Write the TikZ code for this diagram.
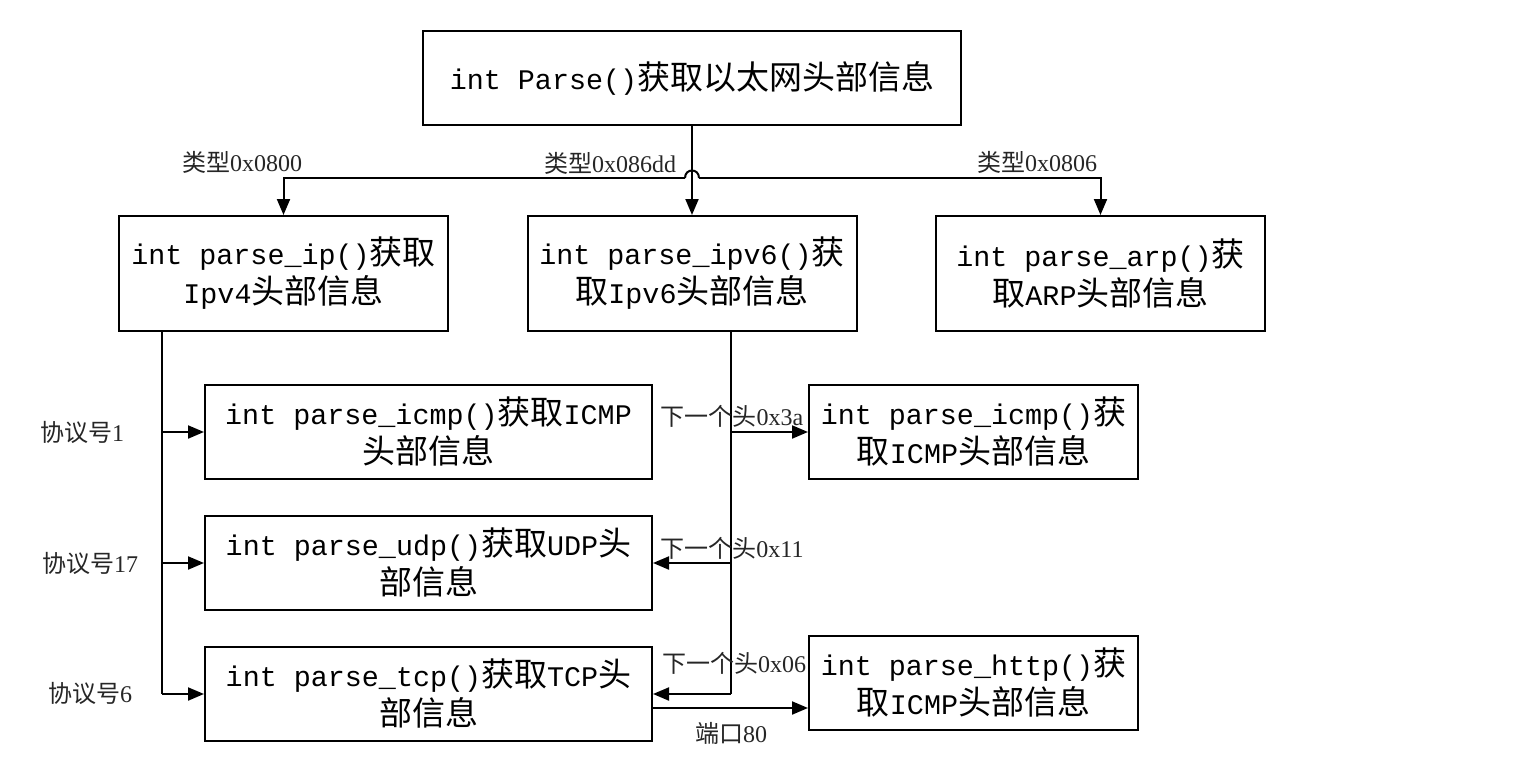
\documentclass[tikz,border=0pt]{standalone}
\usepackage{fontspec}
\setmainfont{Liberation Serif}
\newfontfamily\zhf{Noto Sans CJK SC}
\newfontfamily\monof{Liberation Mono}[Scale=0.86]
\newcommand\zh[1]{{\zhf #1}}
\usetikzlibrary{arrows.meta}
\tikzset{
 box/.style={draw, line width=2pt, align=center, font=\fontsize{33}{39}\selectfont\monof, inner sep=0pt},
 wbox/.style={box, minimum width=447pt, minimum height=94pt},
 nbox/.style={box, minimum width=329pt, minimum height=94pt},
 tbox/.style={box, minimum width=329pt, minimum height=115pt},
 lbl/.style={font=\fontsize{24}{28}\selectfont, inner sep=0pt, text=black!85},
 conn/.style={line width=2pt},
 arr/.style={conn, -{Triangle[length=16pt,width=13pt]}},
}
\begin{document}
\begin{tikzpicture}[x=1pt,y=-1pt]
\useasboundingbox[fill=white] (0,0) rectangle (1516,784);
% boxes
\node[box, minimum width=538pt, minimum height=94pt] (parse) at (692,78) {int Parse()\zh{获取以太网头部信息}};
\node[tbox] (ip) at (283.5,273.5) {int parse\_ip()\zh{获取}\\Ipv4\zh{头部信息}};
\node[tbox] (ipv6) at (692,273.5) {int parse\_ipv6()\zh{获}\\\zh{取}Ipv6\zh{头部信息}};
\node[tbox] (arp) at (1100.5,273.5) {int parse\_arp()\zh{获}\\\zh{取}ARP\zh{头部信息}};
\node[wbox] (icmp) at (428.5,432) {int parse\_icmp()\zh{获取}ICMP\\\zh{头部信息}};
\node[wbox] (udp) at (428.5,563) {int parse\_udp()\zh{获取}UDP\zh{头}\\\zh{部信息}};
\node[wbox] (tcp) at (428.5,694) {int parse\_tcp()\zh{获取}TCP\zh{头}\\\zh{部信息}};
\node[nbox] (icmp6) at (973.5,432) {int parse\_icmp()\zh{获}\\\zh{取}ICMP\zh{头部信息}};
\node[nbox] (http) at (973.5,683) {int parse\_http()\zh{获}\\\zh{取}ICMP\zh{头部信息}};
% top bus with hop
\coordinate (hopL) at (685,178);
\coordinate (hopR) at (699,178);
\draw[arr] (parse.south) -- (ipv6.north);
\draw[arr] (hopL) -| (ip.north);
\draw[arr] (hopR) -| (arp.north);
\draw[conn] (hopL) .. controls (685,168) and (699,168) .. (hopR);
% left bus
\coordinate (lb) at (162,694);
\draw[conn] (ip.south -| lb) -- (lb);
\draw[arr] (icmp.west -| lb) -- (icmp.west);
\draw[arr] (udp.west -| lb) -- (udp.west);
\draw[arr] (lb) -- (tcp.west);
% right bus
\coordinate (rb) at (731,694);
\draw[conn] (ipv6.south -| rb) -- (rb);
\draw[arr] (icmp6.west -| rb) -- (icmp6.west);
\draw[arr] (udp.east -| rb) -- (udp.east);
\draw[arr] (rb) -- (tcp.east);
% tcp -> http
\coordinate (tp) at ([yshift=-14pt]tcp.east);
\draw[arr] (tp) -- (tp -| http.west);
% labels
\node[lbl] (l1) at (242,162) {\zh{类型}0x0800};
\node[lbl] (l2) at (610,163) {\zh{类型}0x086dd};
\node[lbl] (l3) at (1037,162) {\zh{类型}0x0806};
\node[lbl] (l4) at (82,432) {\zh{协议号}1};
\node[lbl] (l5) at (90,563) {\zh{协议号}17};
\node[lbl] (l6) at (90,693) {\zh{协议号}6};
\node[lbl] (l7) at (732,416) {\zh{下一个头}0x3a};
\node[lbl] (l8) at (732,548) {\zh{下一个头}0x11};
\node[lbl] (l9) at (734,663) {\zh{下一个头}0x06};
\node[lbl] (l10) at (731,733) {\zh{端口}80};
\end{tikzpicture}
\end{document}
